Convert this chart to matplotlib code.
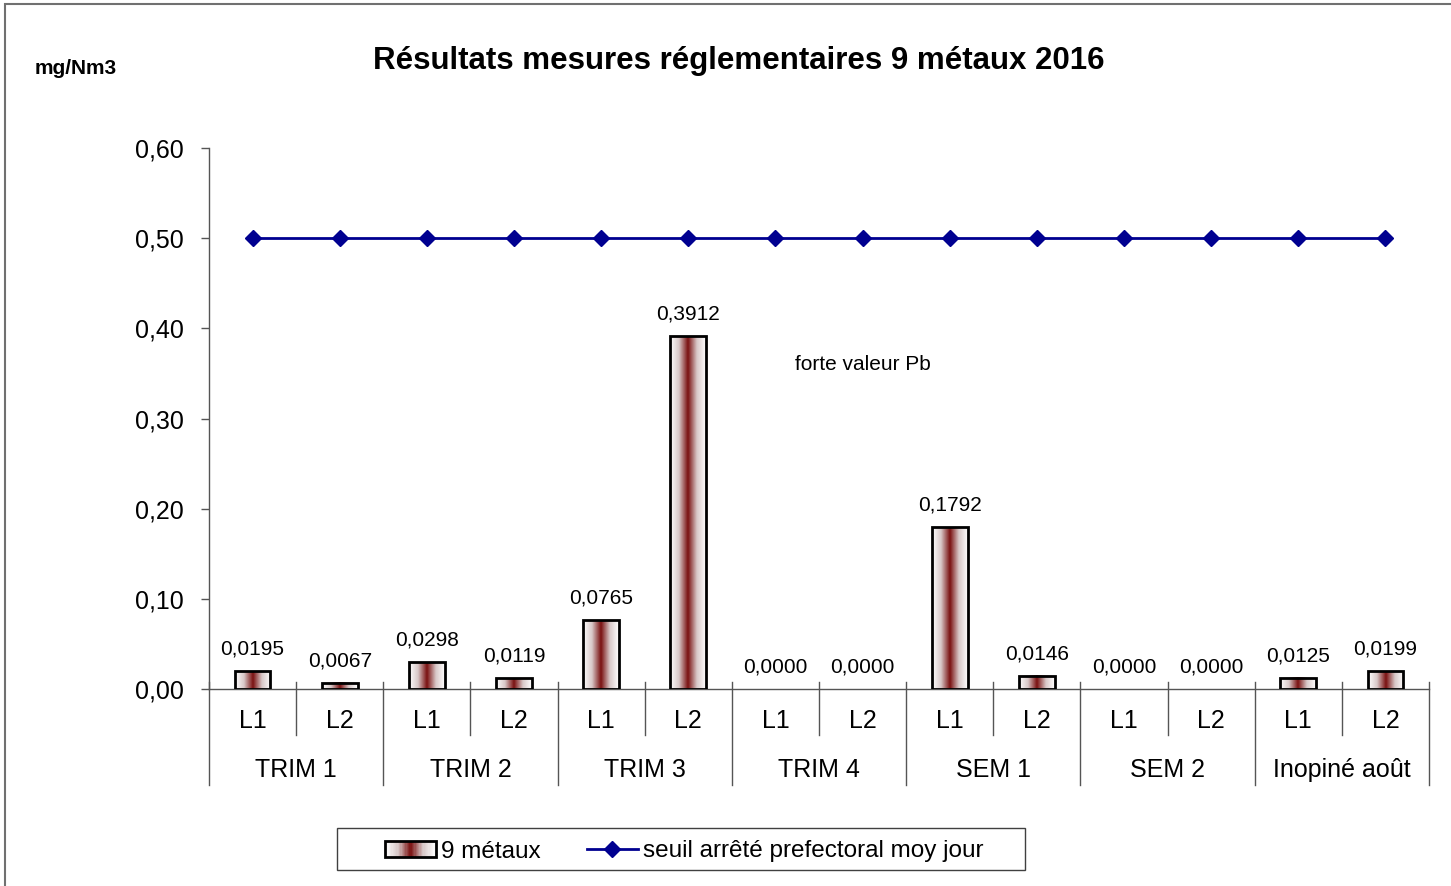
import numpy as np
import matplotlib
matplotlib.use("Agg")
import matplotlib.pyplot as plt
from matplotlib.colors import LinearSegmentedColormap
from matplotlib.patches import Rectangle
from matplotlib.lines import Line2D
from matplotlib.legend_handler import HandlerBase

plt.rcParams['font.family'] = ['Liberation Sans', 'DejaVu Sans']

# Data
groups = ["TRIM 1", "TRIM 2", "TRIM 3", "TRIM 4", "SEM 1", "SEM 2", "Inopiné août"]
lines = ["L1", "L2"]
metaux = [0.0195, 0.0067, 0.0298, 0.0119, 0.0765, 0.3912, 0.0000, 0.0000,
          0.1792, 0.0146, 0.0000, 0.0000, 0.0125, 0.0199]
seuil = [0.50] * 14
yticks = [0.0, 0.1, 0.2, 0.3, 0.4, 0.5, 0.6]

W, H = 1451, 886
fig = plt.figure(figsize=(W / 100, H / 100), dpi=100)
ax = fig.add_axes([209 / W, 1 - 689 / H, (1429 - 209) / W, (689 - 148) / H])

grad = LinearSegmentedColormap.from_list("barfill", ["#ffffff", "#d8c8c8", "#7a1010", "#d8c8c8", "#ffffff"])
grad_vals = np.linspace(0, 1, 200).reshape(1, -1)

x = np.arange(len(metaux))
bw = 0.41
for xi, v in zip(x, metaux):
    if v > 0:
        ax.imshow(grad_vals, cmap=grad, aspect='auto', extent=[xi - bw / 2, xi + bw / 2, 0, v],
                  interpolation='bilinear', zorder=2)
        ax.add_patch(Rectangle((xi - bw / 2, 0), bw, v, facecolor='none', edgecolor='black',
                               lw=2, zorder=3))
    ax.annotate(f"{v:.4f}".replace('.', ','), (xi, v), xytext=(0, 9), textcoords='offset points',
                ha='center', va='bottom', fontsize=15)

ax.plot(x, seuil, color='#000090', lw=2, marker='D', markersize=8, zorder=4)

ax.set_xlim(-0.5, len(metaux) - 0.5)
ax.set_ylim(0, 0.6)
ax.set_yticks(yticks)
ax.set_yticklabels([f"{t:.2f}".replace('.', ',') for t in yticks], fontsize=18)
ax.tick_params(axis='y', length=6, width=1, color='#555555', pad=12)
ax.set_xticks([])
for s in ['top', 'right']:
    ax.spines[s].set_visible(False)
for s in ['left', 'bottom']:
    ax.spines[s].set_color('#555555')
    ax.spines[s].set_linewidth(1)

# Two-level category axis
xt = ax.get_xaxis_transform()
def yf(p):
    return (689 - p) / (689 - 148)

for i in range(len(metaux) + 1):
    b = i - 0.5
    bottom = 785 if i % 2 == 0 else 735
    ax.add_line(Line2D([b, b], [yf(682), yf(bottom)], transform=xt, color='#555555', lw=1,
                       clip_on=False))
for xi in x:
    ax.text(xi, yf(721), lines[xi % 2], transform=xt, ha='center', va='center', fontsize=18)
for g, name in enumerate(groups):
    ax.text(2 * g + 0.5, yf(770), name, transform=xt, ha='center', va='center', fontsize=18)

ax.text(7, 0.36, "forte valeur Pb", ha='center', va='center', fontsize=15)

fig.text(739 / W, 1 - 69 / H, "Résultats mesures réglementaires 9 métaux 2016",
         ha='center', va='baseline', fontsize=22.5, fontweight='bold')
fig.text(76 / W, 1 - 69 / H, "mg/Nm3", ha='center', va='center', fontsize=15, fontweight='bold')

# Outer chart frame
fig.patches.append(Rectangle((4.5 / W, -0.05), 1.2, 1.05 - 4.5 / H, transform=fig.transFigure,
                             facecolor='none', edgecolor='#707070', lw=1.5))


class GradientHandler(HandlerBase):
    def create_artists(self, legend, orig_handle, xdescent, ydescent, width, height, fontsize, trans):
        n = 40
        x0, y0 = -xdescent, -ydescent
        arts = []
        for i in range(n):
            arts.append(Rectangle((x0 + i * width / n, y0), width / n + 0.3, height,
                                  facecolor=grad(i / (n - 1)), edgecolor='none', transform=trans))
        arts.append(Rectangle((x0, y0), width, height, facecolor='none', edgecolor='black',
                              lw=2, transform=trans))
        return arts


bar_handle = Rectangle((0, 0), 1, 1)
line_handle = Line2D([], [], color='#000090', lw=2, marker='D', markersize=8)
leg = fig.legend([bar_handle, line_handle], ["9 métaux", "seuil arrêté prefectoral moy jour"],
                 handler_map={Rectangle: GradientHandler()}, loc='center',
                 bbox_to_anchor=((380 + 988) / 2 / W, 1 - 851.5 / H), ncol=2, fontsize=17.5,
                 frameon=False, handlelength=2.1, handleheight=0.6, handletextpad=0.2,
                 columnspacing=1.9, borderpad=0.35, borderaxespad=0)
# Legend frame
fig.patches.append(Rectangle((337 / W, 1 - 870 / H), (1025 - 337) / W, 42 / H,
                             transform=fig.transFigure, facecolor='none', edgecolor='#404040',
                             lw=1))

fig.savefig("out.png", dpi=100)
